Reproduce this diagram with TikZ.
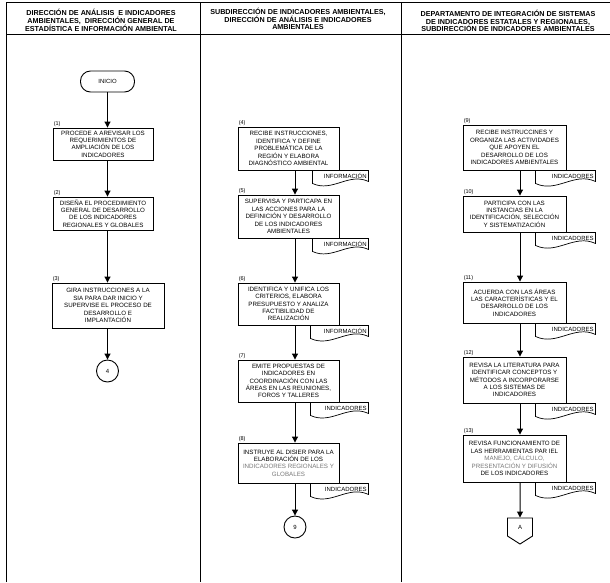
\documentclass[tikz,border=0pt]{standalone}
\usepackage{fontspec}
\setmainfont{Liberation Sans}
\usetikzlibrary{arrows.meta}
\usetikzlibrary{shapes.symbols,calc}

\begin{document}
\begin{tikzpicture}[x=1pt,y=1pt,
    proc/.style={draw,fill=white,line width=0.9pt,inner sep=1pt,align=center,font=\fontsize{6.2}{7.4}\selectfont},
    numlab/.style={anchor=south west,inner sep=1pt,font=\fontsize{5.5}{6}\selectfont},
    flow/.style={-{Triangle[length=6pt,width=6pt]},line width=1pt},
    docline/.style={line width=0.7pt},
    doctext/.style={inner sep=1.5pt,font=\fontsize{6}{7}\selectfont},
    conn/.style={draw,circle,line width=0.9pt,minimum size=22pt,inner sep=0pt,font=\fontsize{6}{7}\selectfont},
    head/.style={align=center,font=\bfseries\fontsize{7.2}{7.8}\selectfont}]
  \definecolor{faint}{RGB}{120,120,120}
  \useasboundingbox (0,0) rectangle (610,-582);

  % frame and lanes
  \draw[line width=0.8pt] (6,-582) -- (6,-2.5) -- (610,-2.5);
  \draw[line width=0.8pt] (6,-34) -- (610,-34);
  \draw[line width=0.8pt] (200,-2.5) -- (200,-582);
  \draw[line width=0.8pt] (401,-2.5) -- (401,-582);

  \node[head] (h1) at (101,-20.5) {DIRECCIÓN DE ANÁLISIS \ E INDICADORES\\AMBIENTALES, \ DIRECCIÓN GENERAL DE\\ESTADÍSTICA E INFORMACIÓN AMBIENTAL};
  \node[head] (h2) at (298,-19) {SUBDIRECCIÓN DE INDICADORES AMBIENTALES,\\DIRECCIÓN DE ANÁLISIS E INDICADORES\\AMBIENTALES};
  \node[head] (h3) at (508,-21) {DEPARTAMENTO DE INTEGRACIÓN DE SISTEMAS\\DE INDICADORES ESTATALES Y REGIONALES,\\SUBDIRECCIÓN DE INDICADORES AMBIENTALES};

  % first lane
  \node[draw,line width=0.9pt,rounded corners=10pt,minimum width=54pt,minimum height=21pt,font=\fontsize{6}{7}\selectfont] (inicio) at (107.5,-81.5) {INICIO};
  \node[proc,minimum width=100pt,minimum height=32pt,label={[numlab]north west:(1)}] (p1) at (103,-144) {PROCEDE A AREVISAR LOS\\REQUERIMIENTOS DE\\AMPLIACIÓN DE LOS\\INDICADORES};
  \node[proc,minimum width=100pt,minimum height=33pt,label={[numlab]north west:(2)}] (p2) at (103,-213.5) {DISEÑA EL PROCEDIMIENTO\\GENERAL DE DESARROLLO\\DE LOS INDICADORES\\REGIONALES Y GLOBALES};
  \node[proc,minimum width=112pt,minimum height=45pt,label={[numlab]north west:(3)}] (p3) at (108,-305.5) {GIRA INSTRUCCIONES A LA\\SIA PARA DAR INICIO Y\\SUPERVISE EL PROCESO DE\\DESARROLLO E\\IMPLANTACIÓN};
  \node[conn] (c4) at (107.5,-371) {4};

  \draw[flow] (inicio) -- (inicio |- p1.north);
  \draw[flow] (p1.south -| inicio) -- (p2.north -| inicio);
  \draw[flow] (p2.south -| inicio) -- (p3.north -| inicio);
  \draw[flow] (p3.south -| inicio) -- (c4);

  % second lane
  \node[proc,minimum width=101pt,minimum height=43pt,label={[numlab]north west:(4)}] (p4) at (288.5,-148.5) {RECIBE INSTRUCCIONES,\\IDENTIFICA Y DEFINE\\PROBLEMÁTICA DE LA\\REGIÓN Y ELABORA\\DIAGNÓSTICO AMBIENTAL};
  \node[proc,minimum width=101pt,minimum height=43pt,label={[numlab]north west:(5)}] (p5) at (288.5,-216.5) {SUPERVISA Y PARTICAPA EN\\LAS ACCIONES PARA LA\\DEFINICIÓN Y DESARROLLO\\DE LOS INDICADORES\\AMBIENTALES};
  \node[proc,minimum width=101pt,minimum height=42pt,label={[numlab]north west:(6)}] (p6) at (288.5,-304) {IDENTIFICA Y UNIFICA LOS\\CRITERIOS, ELABORA\\PRESUPUESTO Y ANALIZA\\FACTIBILIDAD DE\\REALIZACIÓN};
  \node[proc,minimum width=101pt,minimum height=42pt,label={[numlab]north west:(7)}] (p7) at (288.5,-381) {EMITE PROPUESTAS DE\\INDICADORES EN\\COORDINACIÓN CON LAS\\ÁREAS EN LAS REUNIONES,\\FOROS Y TALLERES};
  \node[proc,minimum width=101pt,minimum height=40pt,label={[numlab]north west:(8)}] (p8) at (288.5,-463) {INSTRUYE AL DISIER PARA LA\\ELABORACIÓN DE LOS\\\textcolor{faint}{INDICADORES REGIONALES Y}\\\textcolor{faint}{GLOBALES}};
  \node[conn] (c9) at (295,-527) {9};

  \draw[flow] (p4.south -| c9) -- (p5.north -| c9);
  \draw[flow] (p5.south -| c9) -- (p6.north -| c9);
  \draw[flow] (p6.south -| c9) -- (p7.north -| c9);
  \draw[flow] (p7.south -| c9) -- (p8.north -| c9);
  \draw[flow] (p8.south -| c9) -- (c9);

  % third lane
  \node[proc,minimum width=103pt,minimum height=45pt,label={[numlab]north west:(9)}] (p9) at (514.5,-147.5) {RECIBE INSTRUCCINES Y\\ORGANIZA LAS ACTIVIDADES\\QUE APOYEN EL\\DESARROLLO DE LOS\\INDICADORES AMBIENTALES};
  \node[proc,minimum width=103pt,minimum height=36pt,label={[numlab]north west:(10)}] (p10) at (514.5,-214) {PARTICIPA CON LAS\\INSTANCIAS EN LA\\IDENTIFICACIÓN, SELECCIÓN\\Y SISTEMATIZACIÓN};
  \node[proc,minimum width=103pt,minimum height=41pt,label={[numlab]north west:(11)}] (p11) at (514.5,-302.5) {ACUERDA CON LAS ÁREAS\\LAS CARACTERÍSTICAS Y EL\\DESARROLLO DE LOS\\INDICADORES};
  \node[proc,minimum width=103pt,minimum height=46pt,label={[numlab]north west:(12)}] (p12) at (514.5,-380) {REVISA LA LITERATURA PARA\\IDENTIFICAR CONCEPTOS Y\\MÉTODOS A INCORPORARSE\\A LOS SISTEMAS DE\\INDICADORES};
  \node[proc,minimum width=103pt,minimum height=47pt,label={[numlab]north west:(13)}] (p13) at (514.5,-458.5) {REVISA FUNCIONAMIENTO DE\\LAS HERRAMIENTAS PAR IEL\\\textcolor{faint}{MANEJO, CÁLCULO,}\\\textcolor{faint}{PRESENTACIÓN Y DIFUSIÓN}\\DE LOS INDICADORES};
  \node[draw,line width=0.9pt,shape=signal,signal to=south,signal pointer angle=115,minimum width=25pt,minimum height=20pt,inner sep=1pt,font=\fontsize{6}{7}\selectfont] (offA) at (520,-527) {A};

  \draw[flow] (p9.south -| offA) -- (p10.north -| offA);
  \draw[flow] (p10.south -| offA) -- (p11.north -| offA);
  \draw[flow] (p11.south -| offA) -- (p12.north -| offA);
  \draw[flow] (p12.south -| offA) -- (p13.north -| offA);
  \draw[flow] (p13.south -| offA) -- (offA);

  % documents under the boxes
  \foreach \b/\d/\t in {p4/27/INFORMACIÓN,p5/27/INFORMACIÓN,p6/29/INFORMACIÓN,p7/29/INDICADORES,p8/29/INDICADORES,
                        p9/31/INDICADORES,p10/31/INDICADORES,p11/31/INDICADORES,p12/31/INDICADORES,p13/31/INDICADORES}
    \draw[docline] (\b.south east) ++(-\d,0) -- ++(0,-13) to[out=-25,in=155] ($(\b.south east)+(29,-11)$)
      -- ++(0,11) node[midway,left,doctext] {\t} -- (\b.south east);
\end{tikzpicture}
\end{document}
